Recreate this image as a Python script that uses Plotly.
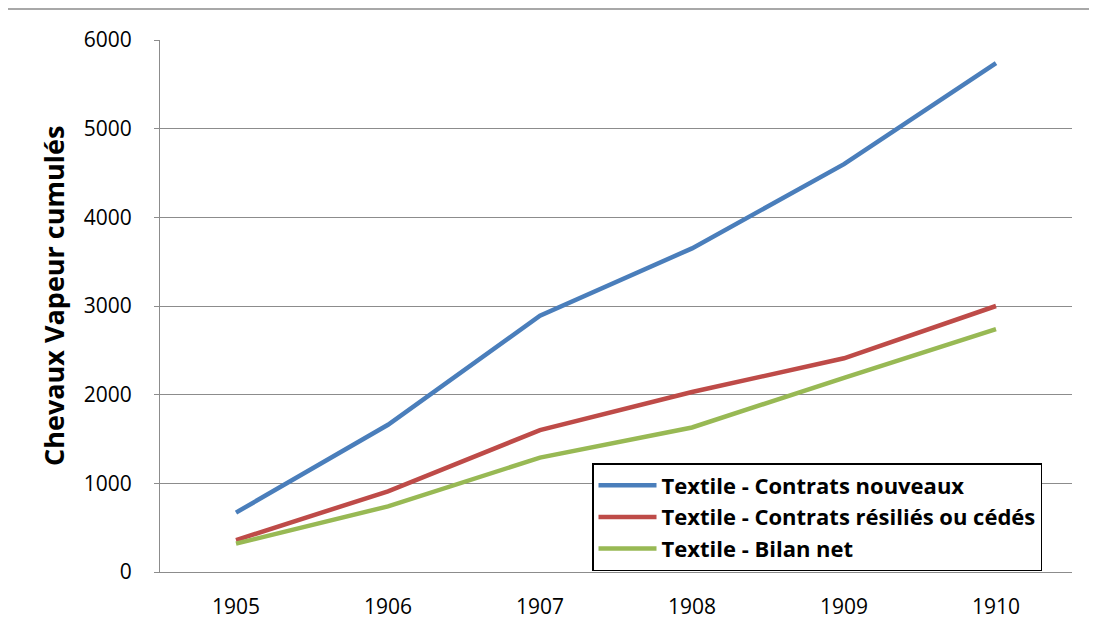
import plotly.graph_objects as go

years = ["1905", "1906", "1907", "1908", "1909", "1910"]
nouveaux = [670, 1660, 2890, 3650, 4600, 5740]
resilies = [360, 910, 1600, 2030, 2410, 3000]
bilan = [320, 740, 1290, 1630, 2190, 2740]

names = ["Textile - Contrats nouveaux", "Textile - Contrats résiliés ou cédés", "Textile - Bilan net"]
colors = ["#4A7EBB", "#BE4B48", "#98B954"]

fig = go.Figure()
for name, vals, col in zip(names, [nouveaux, resilies, bilan], colors):
    fig.add_trace(go.Scatter(x=years, y=vals, mode="lines", name="<b>" + name + "</b>",
                             line=dict(color=col, width=4.5)))

# page body has an 8px margin: work in screen coordinates and subtract it
O = 8
W, H = 1097, 634
L, T = 160 - O, 40 - O
R = W - (1072 - O)
B = H - (572 - O)
pw, ph = W - L - R, H - T - B

def px(x):
    return (x - O - L) / pw

def py(y):
    return (H - B - (y - O)) / ph

fig.add_shape(type="rect", xref="paper", yref="paper",
              x0=px(7), x1=px(1130), y0=py(680), y1=py(9),
              line=dict(color="#8C8C8C", width=1.5), fillcolor="rgba(0,0,0,0)", layer="below")

fig.add_annotation(text="<b>Chevaux Vapeur cumulés</b>", xref="paper", yref="paper",
                   x=px(53), y=py(296), xanchor="center", yanchor="middle",
                   textangle=-90, showarrow=False,
                   font=dict(size=27, color="black", family="Open Sans"))

fig.update_layout(
    width=W, height=H,
    margin=dict(l=L, r=R, t=T, b=B),
    paper_bgcolor="white", plot_bgcolor="white",
    font=dict(family="Open Sans", size=19, color="black"),
    showlegend=True,
    legend=dict(x=px(592), y=py(463), xanchor="left", yanchor="top",
                bgcolor="white", bordercolor="black", borderwidth=1.5,
                font=dict(size=22, color="black", family="Open Sans"),
                itemwidth=58, tracegroupgap=0),
    xaxis=dict(type="category", range=[-0.5, 5.5], showgrid=False,
               showline=True, linecolor="#8C8C8C", linewidth=1.2,
               ticks="", tickfont=dict(size=21, family="Liberation Sans Narrow, Open Sans"),
               ticklabelstandoff=16),
    yaxis=dict(range=[0, 6000], dtick=1000, showgrid=True, gridcolor="#8C8C8C", gridwidth=1.2,
               showline=True, linecolor="#8C8C8C", linewidth=1.2,
               ticks="outside", ticklen=5, tickcolor="#8C8C8C",
               tickfont=dict(size=21), zeroline=False, ticklabelstandoff=18),
)
fig.write_html("out.html")
